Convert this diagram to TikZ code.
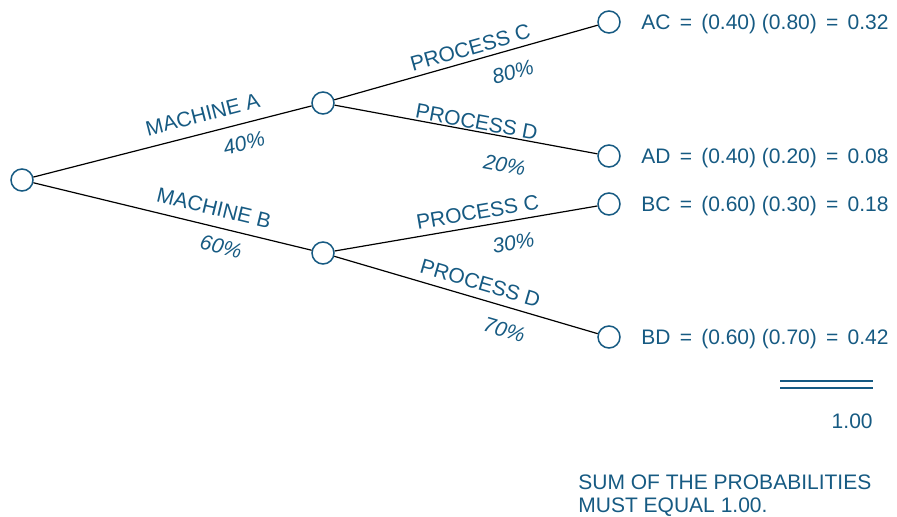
\documentclass[tikz,border=0pt]{standalone}
\usepackage{fontspec}
\setmainfont{Liberation Sans}
\usetikzlibrary{positioning}
\definecolor{inkblue}{RGB}{22,90,130}
\newcommand{\eqsp}{\hspace{1.7pt} = \hspace{1.7pt}}

\begin{document}
\begin{tikzpicture}[x=0.5pt, y=-0.5pt,
  event/.style={circle, draw=inkblue, line width=0.75pt, fill=white, minimum size=11pt, inner sep=0pt},
  branch/.style={draw=black, line width=0.6pt},
  lab/.style={font=\fontsize{10.5}{11.5}\selectfont, text=inkblue, inner sep=0pt},
  pct/.style={font=\fontsize{10.5}{11.5}\selectfont\itshape, text=inkblue, inner sep=0pt},
  total/.style={draw=inkblue, line width=0.6pt}]
  \useasboundingbox (0,0) rectangle (897,517);
  \node[event] (root) at (22,180) {};
  \node[event] (ma) at (323,103) {};
  \node[event] (mb) at (323,253) {};
  \node[event] (ac) at (609,22) {};
  \node[event] (ad) at (609,156) {};
  \node[event] (bc) at (609,204) {};
  \node[event] (bd) at (609,337) {};
  \draw[branch] (root) -- node[lab, sloped, pos=0.625, yshift=9.3pt] {MACHINE A}
    node[pct, sloped, pos=0.74, yshift=-9.5pt] {40\%} (ma);
  \draw[branch] (root) -- node[lab, sloped, pos=0.634, yshift=9pt] {MACHINE B}
    node[pct, sloped, pos=0.69, yshift=-9pt] {60\%} (mb);
  \draw[branch] (ma) -- node[lab, sloped, pos=0.53, yshift=6.5pt] {PROCESS C}
    node[pct, sloped, pos=0.655, yshift=-11pt] {80\%} (ac);
  \draw[branch] (ma) -- node[lab, sloped, pos=0.534, yshift=4.7pt] {PROCESS D}
    node[pct, sloped, pos=0.666, yshift=-14pt] {20\%} (ad);
  \draw[branch] (mb) -- node[lab, sloped, pos=0.553, yshift=7.1pt] {PROCESS C}
    node[pct, sloped, pos=0.666, yshift=-10.9pt] {30\%} (bc);
  \draw[branch] (mb) -- node[lab, sloped, pos=0.538, yshift=7.7pt] {PROCESS D}
    node[pct, sloped, pos=0.67, yshift=-11.3pt] {70\%} (bd);
  \node[lab, anchor=base west] (tac) at (641,29.5) {AC\eqsp(0.40) (0.80)\eqsp0.32};
  \node[lab, anchor=base west] (tad) at (641,163.5) {AD\eqsp(0.40) (0.20)\eqsp0.08};
  \node[lab, anchor=base west] (tbc) at (641,211.5) {BC\eqsp(0.60) (0.30)\eqsp0.18};
  \node[lab, anchor=base west] (tbd) at (641,344.5) {BD\eqsp(0.60) (0.70)\eqsp0.42};
  \draw[total] (780,381) -- (873,381);
  \draw[total] (780,388) -- (873,388);
  \node[lab, anchor=base east] (sum) at (873,428.5) {1.00};
  \node[lab, anchor=base west, align=left] (note) at (578,512.5) {SUM OF THE PROBABILITIES\\MUST EQUAL 1.00.};
\end{tikzpicture}
\end{document}
